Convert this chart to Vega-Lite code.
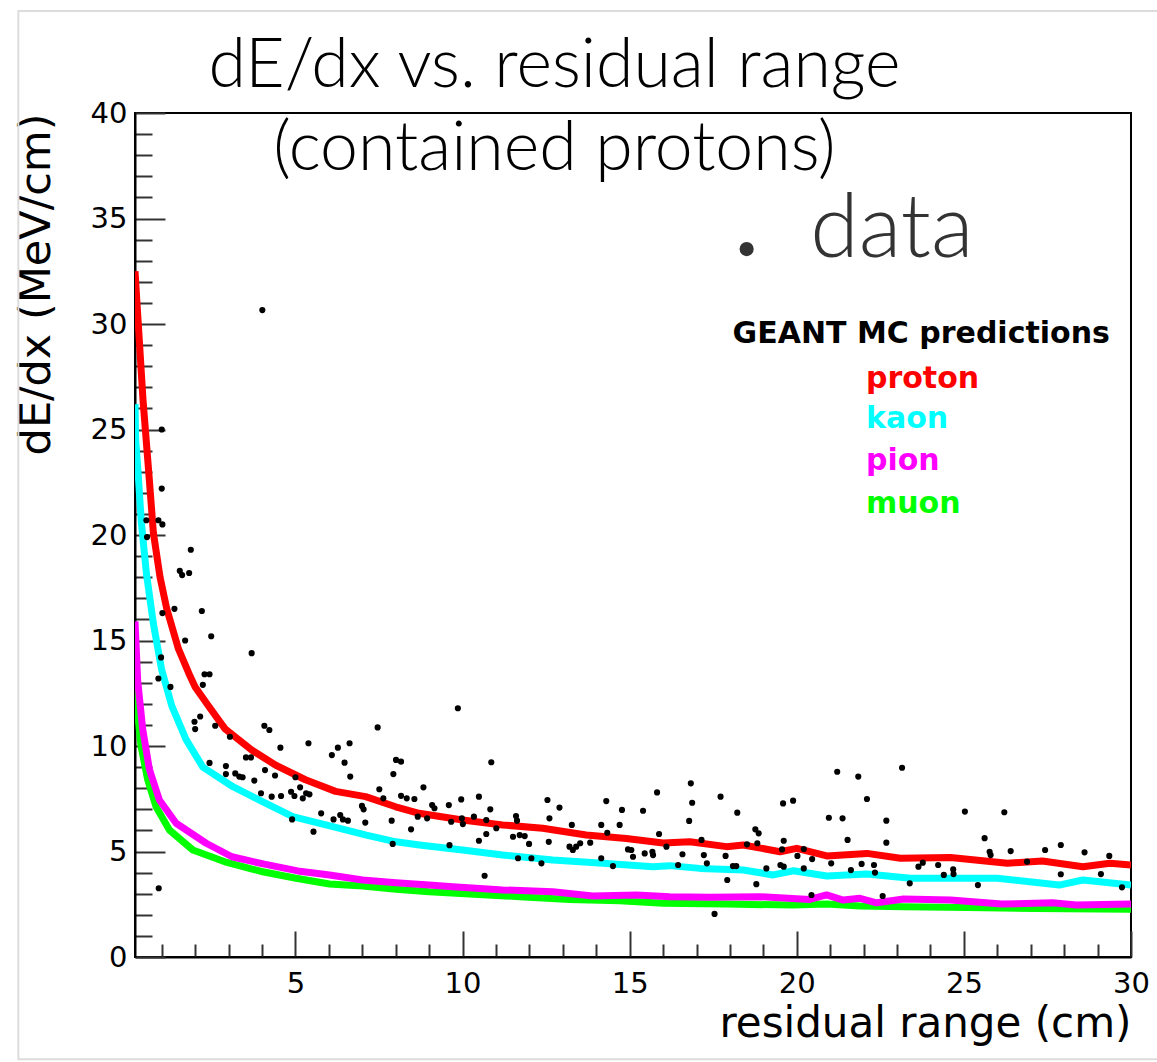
{
  "$schema": "https://vega.github.io/schema/vega-lite/v6.json",
  "width": 996,
  "height": 844,
  "autosize": "none",
  "padding": {"left": 135, "top": 113, "right": 26, "bottom": 105},
  "background": "#ffffff",
  "datasets": {
    "curves": [
      {"particle": "muon", "x": 0.2, "y": 14.1}, {"particle": "muon", "x": 0.23, "y": 12.3}, {"particle": "muon", "x": 0.38, "y": 10.0}, {"particle": "muon", "x": 0.58, "y": 8.4}, {"particle": "muon", "x": 0.83, "y": 7.12}, {"particle": "muon", "x": 1.23, "y": 6.02}, {"particle": "muon", "x": 1.93, "y": 5.07}, {"particle": "muon", "x": 2.95, "y": 4.48}, {"particle": "muon", "x": 4.02, "y": 4.04}, {"particle": "muon", "x": 5.02, "y": 3.73}, {"particle": "muon", "x": 6.02, "y": 3.46}, {"particle": "muon", "x": 7.01, "y": 3.36}, {"particle": "muon", "x": 8.01, "y": 3.21}, {"particle": "muon", "x": 9.0, "y": 3.09}, {"particle": "muon", "x": 10.21, "y": 2.99}, {"particle": "muon", "x": 11.71, "y": 2.86}, {"particle": "muon", "x": 13.2, "y": 2.73}, {"particle": "muon", "x": 14.7, "y": 2.67}, {"particle": "muon", "x": 16.0, "y": 2.55}, {"particle": "muon", "x": 17.9, "y": 2.51}, {"particle": "muon", "x": 19.89, "y": 2.46}, {"particle": "muon", "x": 20.89, "y": 2.51}, {"particle": "muon", "x": 21.89, "y": 2.42}, {"particle": "muon", "x": 23.2, "y": 2.38}, {"particle": "muon", "x": 25.11, "y": 2.35}, {"particle": "muon", "x": 27.14, "y": 2.3}, {"particle": "muon", "x": 30.0, "y": 2.26},
      {"particle": "pion", "x": 0.2, "y": 15.9}, {"particle": "pion", "x": 0.28, "y": 13.1}, {"particle": "pion", "x": 0.43, "y": 10.8}, {"particle": "pion", "x": 0.63, "y": 8.9}, {"particle": "pion", "x": 0.93, "y": 7.44}, {"particle": "pion", "x": 1.43, "y": 6.34}, {"particle": "pion", "x": 2.33, "y": 5.39}, {"particle": "pion", "x": 3.1, "y": 4.75}, {"particle": "pion", "x": 4.07, "y": 4.4}, {"particle": "pion", "x": 5.07, "y": 4.08}, {"particle": "pion", "x": 6.02, "y": 3.89}, {"particle": "pion", "x": 7.01, "y": 3.65}, {"particle": "pion", "x": 8.01, "y": 3.52}, {"particle": "pion", "x": 9.0, "y": 3.41}, {"particle": "pion", "x": 9.71, "y": 3.33}, {"particle": "pion", "x": 11.21, "y": 3.18}, {"particle": "pion", "x": 12.7, "y": 3.09}, {"particle": "pion", "x": 13.9, "y": 2.89}, {"particle": "pion", "x": 15.2, "y": 2.94}, {"particle": "pion", "x": 16.2, "y": 2.86}, {"particle": "pion", "x": 17.4, "y": 2.83}, {"particle": "pion", "x": 18.89, "y": 2.86}, {"particle": "pion", "x": 20.39, "y": 2.73}, {"particle": "pion", "x": 20.89, "y": 2.94}, {"particle": "pion", "x": 21.39, "y": 2.7}, {"particle": "pion", "x": 21.89, "y": 2.78}, {"particle": "pion", "x": 22.39, "y": 2.57}, {"particle": "pion", "x": 23.2, "y": 2.75}, {"particle": "pion", "x": 24.6, "y": 2.7}, {"particle": "pion", "x": 26.13, "y": 2.51}, {"particle": "pion", "x": 27.65, "y": 2.57}, {"particle": "pion", "x": 28.36, "y": 2.46}, {"particle": "pion", "x": 30.0, "y": 2.51},
      {"particle": "kaon", "x": 0.2, "y": 26.2}, {"particle": "kaon", "x": 0.22, "y": 24.5}, {"particle": "kaon", "x": 0.29, "y": 23.0}, {"particle": "kaon", "x": 0.39, "y": 20.6}, {"particle": "kaon", "x": 0.54, "y": 18.2}, {"particle": "kaon", "x": 0.75, "y": 15.8}, {"particle": "kaon", "x": 1.0, "y": 13.6}, {"particle": "kaon", "x": 1.3, "y": 11.9}, {"particle": "kaon", "x": 1.73, "y": 10.3}, {"particle": "kaon", "x": 2.23, "y": 9.0}, {"particle": "kaon", "x": 3.13, "y": 8.07}, {"particle": "kaon", "x": 4.12, "y": 7.28}, {"particle": "kaon", "x": 4.92, "y": 6.65}, {"particle": "kaon", "x": 6.12, "y": 6.18}, {"particle": "kaon", "x": 7.12, "y": 5.78}, {"particle": "kaon", "x": 8.01, "y": 5.46}, {"particle": "kaon", "x": 8.71, "y": 5.31}, {"particle": "kaon", "x": 10.0, "y": 5.07}, {"particle": "kaon", "x": 11.2, "y": 4.83}, {"particle": "kaon", "x": 12.7, "y": 4.6}, {"particle": "kaon", "x": 14.2, "y": 4.44}, {"particle": "kaon", "x": 15.7, "y": 4.28}, {"particle": "kaon", "x": 16.2, "y": 4.33}, {"particle": "kaon", "x": 17.1, "y": 4.2}, {"particle": "kaon", "x": 18.4, "y": 4.12}, {"particle": "kaon", "x": 19.3, "y": 3.89}, {"particle": "kaon", "x": 19.9, "y": 4.09}, {"particle": "kaon", "x": 20.9, "y": 3.84}, {"particle": "kaon", "x": 22.1, "y": 3.93}, {"particle": "kaon", "x": 23.4, "y": 3.73}, {"particle": "kaon", "x": 24.6, "y": 3.73}, {"particle": "kaon", "x": 26.0, "y": 3.73}, {"particle": "kaon", "x": 27.85, "y": 3.41}, {"particle": "kaon", "x": 28.56, "y": 3.65}, {"particle": "kaon", "x": 30.0, "y": 3.41},
      {"particle": "proton", "x": 0.2, "y": 32.5}, {"particle": "proton", "x": 0.44, "y": 26.4}, {"particle": "proton", "x": 0.63, "y": 22.6}, {"particle": "proton", "x": 0.75, "y": 20.1}, {"particle": "proton", "x": 0.95, "y": 18.0}, {"particle": "proton", "x": 1.15, "y": 16.5}, {"particle": "proton", "x": 1.5, "y": 14.6}, {"particle": "proton", "x": 1.85, "y": 13.3}, {"particle": "proton", "x": 2.0, "y": 12.8}, {"particle": "proton", "x": 2.4, "y": 11.9}, {"particle": "proton", "x": 2.9, "y": 10.8}, {"particle": "proton", "x": 3.7, "y": 9.8}, {"particle": "proton", "x": 4.4, "y": 9.1}, {"particle": "proton", "x": 5.3, "y": 8.4}, {"particle": "proton", "x": 6.2, "y": 7.85}, {"particle": "proton", "x": 7.1, "y": 7.6}, {"particle": "proton", "x": 8.0, "y": 7.12}, {"particle": "proton", "x": 8.7, "y": 6.81}, {"particle": "proton", "x": 10.0, "y": 6.49}, {"particle": "proton", "x": 11.2, "y": 6.26}, {"particle": "proton", "x": 12.4, "y": 6.1}, {"particle": "proton", "x": 13.7, "y": 5.78}, {"particle": "proton", "x": 14.9, "y": 5.62}, {"particle": "proton", "x": 16.0, "y": 5.4}, {"particle": "proton", "x": 16.8, "y": 5.46}, {"particle": "proton", "x": 17.9, "y": 5.23}, {"particle": "proton", "x": 18.4, "y": 5.31}, {"particle": "proton", "x": 19.5, "y": 4.99}, {"particle": "proton", "x": 20.0, "y": 5.15}, {"particle": "proton", "x": 20.9, "y": 4.79}, {"particle": "proton", "x": 22.1, "y": 4.91}, {"particle": "proton", "x": 23.1, "y": 4.68}, {"particle": "proton", "x": 24.6, "y": 4.72}, {"particle": "proton", "x": 26.3, "y": 4.44}, {"particle": "proton", "x": 27.35, "y": 4.55}, {"particle": "proton", "x": 28.56, "y": 4.28}, {"particle": "proton", "x": 29.37, "y": 4.44}, {"particle": "proton", "x": 30.0, "y": 4.36}
    ],
    "points": [
      {"x": 4.01, "y": 30.66}, {"x": 1.0, "y": 25.0}, {"x": 1.0, "y": 22.2}, {"x": 0.54, "y": 20.7}, {"x": 0.9, "y": 20.7}, {"x": 1.02, "y": 20.5}, {"x": 0.56, "y": 19.9}, {"x": 1.87, "y": 19.3}, {"x": 1.54, "y": 18.3}, {"x": 1.61, "y": 18.1}, {"x": 1.82, "y": 18.2}, {"x": 1.02, "y": 16.3}, {"x": 1.38, "y": 16.5}, {"x": 2.2, "y": 16.4}, {"x": 1.7, "y": 15.0}, {"x": 2.48, "y": 15.2}, {"x": 3.69, "y": 14.4}, {"x": 0.98, "y": 14.2}, {"x": 2.28, "y": 13.4}, {"x": 2.43, "y": 13.4}, {"x": 0.9, "y": 13.2}, {"x": 1.26, "y": 12.8}, {"x": 2.23, "y": 12.9},
      {"x": 1.98, "y": 11.15}, {"x": 2.0, "y": 10.8}, {"x": 2.15, "y": 11.4}, {"x": 2.6, "y": 10.96}, {"x": 3.04, "y": 10.44}, {"x": 4.07, "y": 10.96}, {"x": 4.22, "y": 10.76}, {"x": 4.55, "y": 9.92}, {"x": 5.39, "y": 10.13}, {"x": 6.09, "y": 9.57}, {"x": 6.27, "y": 9.92}, {"x": 6.62, "y": 10.13}, {"x": 7.46, "y": 10.88}, {"x": 2.43, "y": 9.2}, {"x": 2.92, "y": 9.05}, {"x": 2.92, "y": 8.67}, {"x": 3.52, "y": 9.46}, {"x": 3.67, "y": 9.46}, {"x": 3.2, "y": 8.7}, {"x": 3.32, "y": 8.55}, {"x": 3.42, "y": 8.52}, {"x": 4.09, "y": 8.86}, {"x": 4.39, "y": 8.6}, {"x": 3.77, "y": 8.36}, {"x": 5.0, "y": 8.52}, {"x": 6.47, "y": 9.21}, {"x": 6.64, "y": 8.55}, {"x": 8.01, "y": 9.34}, {"x": 8.16, "y": 9.26}, {"x": 7.93, "y": 8.67}, {"x": 3.97, "y": 7.76}, {"x": 4.29, "y": 7.6}, {"x": 4.57, "y": 7.63}, {"x": 4.87, "y": 7.83}, {"x": 4.97, "y": 7.63}, {"x": 5.14, "y": 8.04}, {"x": 5.22, "y": 7.52}, {"x": 5.32, "y": 7.76}, {"x": 5.42, "y": 7.71}, {"x": 6.99, "y": 7.16}, {"x": 7.04, "y": 7.0}, {"x": 7.09, "y": 6.37}, {"x": 7.51, "y": 7.95}, {"x": 7.63, "y": 7.52}, {"x": 8.16, "y": 7.64}, {"x": 8.33, "y": 7.52}, {"x": 8.56, "y": 7.49}, {"x": 8.83, "y": 8.04}, {"x": 8.66, "y": 6.65}, {"x": 8.94, "y": 6.57}, {"x": 5.77, "y": 6.81}, {"x": 6.14, "y": 6.52}, {"x": 6.34, "y": 6.73}, {"x": 6.42, "y": 6.52}, {"x": 6.57, "y": 6.46}, {"x": 4.9, "y": 6.52}, {"x": 5.54, "y": 5.94}, {"x": 7.88, "y": 6.46}, {"x": 8.46, "y": 6.05}, {"x": 7.91, "y": 5.36}, {"x": 0.91, "y": 3.26},
      {"x": 9.86, "y": 11.79}, {"x": 10.86, "y": 9.23}, {"x": 9.09, "y": 7.2}, {"x": 9.16, "y": 7.05}, {"x": 9.59, "y": 7.2}, {"x": 9.96, "y": 7.47}, {"x": 10.49, "y": 7.6}, {"x": 9.66, "y": 6.41}, {"x": 9.98, "y": 6.57}, {"x": 10.01, "y": 6.3}, {"x": 10.34, "y": 6.65}, {"x": 10.71, "y": 6.49}, {"x": 10.83, "y": 7.0}, {"x": 11.01, "y": 6.1}, {"x": 10.71, "y": 5.83}, {"x": 10.49, "y": 5.51}, {"x": 9.61, "y": 5.3}, {"x": 10.66, "y": 3.85}, {"x": 11.6, "y": 6.68}, {"x": 11.63, "y": 6.46}, {"x": 11.51, "y": 5.7}, {"x": 11.71, "y": 5.78}, {"x": 11.86, "y": 5.73}, {"x": 11.99, "y": 5.36}, {"x": 11.66, "y": 4.68}, {"x": 12.06, "y": 4.68}, {"x": 12.36, "y": 4.44}, {"x": 12.54, "y": 7.44}, {"x": 12.6, "y": 6.57}, {"x": 12.58, "y": 5.46}, {"x": 12.9, "y": 7.08}, {"x": 13.27, "y": 6.26}, {"x": 13.2, "y": 5.23}, {"x": 13.3, "y": 5.07}, {"x": 13.4, "y": 5.23}, {"x": 13.52, "y": 5.39}, {"x": 13.82, "y": 5.42}, {"x": 14.15, "y": 6.26}, {"x": 14.3, "y": 7.39}, {"x": 14.33, "y": 5.89}, {"x": 14.15, "y": 4.68}, {"x": 14.5, "y": 4.31}, {"x": 14.77, "y": 6.97}, {"x": 14.7, "y": 6.26}, {"x": 14.95, "y": 5.1}, {"x": 15.05, "y": 5.07}, {"x": 15.1, "y": 4.75}, {"x": 15.4, "y": 6.93}, {"x": 15.45, "y": 4.91}, {"x": 15.68, "y": 4.99}, {"x": 15.7, "y": 4.83}, {"x": 15.82, "y": 7.8}, {"x": 15.88, "y": 5.83}, {"x": 16.1, "y": 5.23},
      {"x": 16.83, "y": 8.23}, {"x": 16.87, "y": 7.31}, {"x": 16.78, "y": 6.45}, {"x": 16.58, "y": 4.87}, {"x": 17.15, "y": 5.55}, {"x": 17.22, "y": 4.83}, {"x": 17.31, "y": 4.44}, {"x": 16.45, "y": 4.36}, {"x": 17.72, "y": 7.6}, {"x": 17.87, "y": 4.79}, {"x": 17.92, "y": 3.65}, {"x": 17.54, "y": 2.04}, {"x": 18.09, "y": 4.31}, {"x": 18.19, "y": 4.31}, {"x": 18.22, "y": 6.84}, {"x": 18.51, "y": 5.34}, {"x": 18.76, "y": 6.05}, {"x": 18.86, "y": 5.86}, {"x": 18.82, "y": 5.39}, {"x": 18.79, "y": 3.45}, {"x": 19.09, "y": 4.2}, {"x": 19.59, "y": 7.28}, {"x": 19.89, "y": 7.41}, {"x": 19.61, "y": 5.51}, {"x": 19.56, "y": 5.1}, {"x": 19.51, "y": 4.36}, {"x": 19.61, "y": 4.28}, {"x": 20.02, "y": 4.79}, {"x": 20.21, "y": 5.12}, {"x": 20.21, "y": 4.2}, {"x": 20.46, "y": 4.64}, {"x": 20.44, "y": 2.94}, {"x": 20.96, "y": 6.6}, {"x": 21.03, "y": 4.44}, {"x": 21.21, "y": 8.78}, {"x": 21.37, "y": 6.57}, {"x": 21.52, "y": 5.55}, {"x": 21.62, "y": 4.12}, {"x": 21.84, "y": 8.55}, {"x": 21.94, "y": 4.41}, {"x": 22.1, "y": 7.49}, {"x": 22.31, "y": 4.36}, {"x": 22.34, "y": 4.0}, {"x": 22.57, "y": 2.89}, {"x": 22.68, "y": 6.46}, {"x": 22.68, "y": 5.42}, {"x": 23.15, "y": 8.97}, {"x": 23.38, "y": 3.49},
      {"x": 25.03, "y": 6.89}, {"x": 26.21, "y": 6.86}, {"x": 25.62, "y": 5.63}, {"x": 25.77, "y": 4.99}, {"x": 25.8, "y": 4.83}, {"x": 26.4, "y": 5.02}, {"x": 27.43, "y": 5.07}, {"x": 27.9, "y": 5.31}, {"x": 27.9, "y": 3.92}, {"x": 28.61, "y": 4.96}, {"x": 29.35, "y": 4.79}, {"x": 29.1, "y": 3.93}, {"x": 29.73, "y": 3.3}, {"x": 23.64, "y": 4.28}, {"x": 23.77, "y": 4.47}, {"x": 24.23, "y": 4.36}, {"x": 24.4, "y": 3.89}, {"x": 24.68, "y": 4.15}, {"x": 24.69, "y": 3.93}, {"x": 25.42, "y": 3.41}, {"x": 26.89, "y": 4.52}
    ],
    "annotations": [
      {"label": "", "role": "frame"},
      {"label": "dE/dx vs. residual range", "role": "title"},
      {"label": "(contained protons)", "role": "subtitle"},
      {"label": "data", "role": "data"},
      {"label": "GEANT MC predictions", "role": "legendhead"},
      {"label": "proton", "role": "proton"},
      {"label": "kaon", "role": "kaon"},
      {"label": "pion", "role": "pion"},
      {"label": "muon", "role": "muon"}
    ]
  },
  "resolve": {"axis": {"x": "independent", "y": "independent"}},
  "layer": [
    {
      "data": {"name": "annotations"},
      "transform": [{"filter": "datum.role === 'frame'"}],
      "mark": {"type": "rect", "fillOpacity": 0, "stroke": "#dcdcdc", "strokeWidth": 2, "clip": false},
      "encoding": {
        "x": {"datum": -3.29, "axis": null},
        "x2": {"datum": 31.8},
        "y": {"datum": 44.83, "axis": null},
        "y2": {"datum": -4.85}
      }
    },
    {
      "data": {"name": "curves"},
      "mark": {"type": "line", "strokeWidth": 7, "strokeJoin": "round", "strokeCap": "butt", "clip": true},
      "encoding": {
        "x": {
          "field": "x",
          "type": "quantitative",
          "scale": {"domain": [0.2, 30], "nice": false, "zero": false},
          "axis": {
            "orient": "bottom",
            "title": "residual range (cm)",
            "titleAnchor": "end",
            "titlePadding": -8,
            "titleFontSize": 42,
            "values": [1,2,3,4,5,6,7,8,9,10,11,12,13,14,15,16,17,18,19,20,21,22,23,24,25,26,27,28,29,30],
            "tickSize": {"condition": {"test": "datum.value % 5 === 0", "value": -26}, "value": -13},
            "labelExpr": "datum.value % 5 === 0 ? datum.label : ''",
            "labelPadding": 38,
            "labelFlush": false,
            "labelOverlap": false
          }
        },
        "y": {
          "field": "y",
          "type": "quantitative",
          "scale": {"domain": [0, 40], "nice": false, "zero": false},
          "axis": {
            "orient": "left",
            "title": "dE/dx (MeV/cm)",
            "titleAnchor": "end",
            "titlePadding": 32,
            "titleFontSize": 43,
            "values": [0,1,2,3,4,5,6,7,8,9,10,11,12,13,14,15,16,17,18,19,20,21,22,23,24,25,26,27,28,29,30,31,32,33,34,35,36,37,38,39,40],
            "tickSize": {"condition": {"test": "datum.value % 5 === 0", "value": -30}, "value": -17},
            "labelExpr": "datum.value % 5 === 0 ? datum.label : ''",
            "labelPadding": 38,
            "labelFlush": false,
            "labelOverlap": false
          }
        },
        "color": {
          "field": "particle",
          "type": "nominal",
          "scale": {"domain": ["muon", "pion", "kaon", "proton"], "range": ["#00ff00", "#ff00ff", "#00ffff", "#ff0000"]},
          "legend": null
        }
      }
    },
    {
      "data": {"name": "points"},
      "mark": {"type": "point", "filled": true, "color": "#000000", "opacity": 1, "size": 38, "shape": "circle"},
      "encoding": {
        "x": {"field": "x", "type": "quantitative", "axis": null},
        "y": {"field": "y", "type": "quantitative", "axis": null}
      }
    },
    {
      "data": {"name": "annotations"},
      "transform": [{"filter": "datum.role === 'title'"}],
      "mark": {"type": "text", "font": "Lato", "fontWeight": 300, "fontSize": 68, "align": "center", "baseline": "alphabetic", "color": "#000000"},
      "encoding": {"text": {"field": "label"}, "x": {"datum": 12.75, "axis": null}, "y": {"datum": 41.23, "axis": null}}
    },
    {
      "data": {"name": "annotations"},
      "transform": [{"filter": "datum.role === 'subtitle'"}],
      "mark": {"type": "text", "font": "Lato", "fontWeight": 300, "fontSize": 68, "align": "center", "baseline": "alphabetic", "color": "#000000"},
      "encoding": {"text": {"field": "label"}, "x": {"datum": 12.75, "axis": null}, "y": {"datum": 37.3, "axis": null}}
    },
    {
      "data": {"name": "annotations"},
      "transform": [{"filter": "datum.role === 'data'"}],
      "mark": {"type": "text", "font": "Lato", "fontWeight": 300, "fontSize": 88, "align": "left", "baseline": "alphabetic", "color": "#333333"},
      "encoding": {"text": {"field": "label"}, "x": {"datum": 20.4, "axis": null}, "y": {"datum": 33.18, "axis": null}}
    },
    {
      "data": {"name": "annotations"},
      "transform": [{"filter": "datum.role === 'data'"}],
      "mark": {"type": "point", "filled": true, "shape": "circle", "size": 200, "color": "#333333", "opacity": 1},
      "encoding": {"x": {"datum": 18.5, "axis": null}, "y": {"datum": 33.55, "axis": null}}
    },
    {
      "data": {"name": "annotations"},
      "transform": [{"filter": "datum.role === 'legendhead'"}],
      "mark": {"type": "text", "font": "DejaVu Sans", "fontWeight": "bold", "fontSize": 30, "align": "left", "baseline": "alphabetic", "color": "#000000"},
      "encoding": {"text": {"field": "label"}, "x": {"datum": 18.08, "axis": null}, "y": {"datum": 29.1, "axis": null}}
    },
    {
      "data": {"name": "annotations"},
      "transform": [{"filter": "datum.role === 'proton'"}],
      "mark": {"type": "text", "font": "DejaVu Sans", "fontWeight": "bold", "fontSize": 30, "align": "left", "baseline": "alphabetic", "color": "#ff0000"},
      "encoding": {"text": {"field": "label"}, "x": {"datum": 22.07, "axis": null}, "y": {"datum": 26.97, "axis": null}}
    },
    {
      "data": {"name": "annotations"},
      "transform": [{"filter": "datum.role === 'kaon'"}],
      "mark": {"type": "text", "font": "DejaVu Sans", "fontWeight": "bold", "fontSize": 30, "align": "left", "baseline": "alphabetic", "color": "#00ffff"},
      "encoding": {"text": {"field": "label"}, "x": {"datum": 22.07, "axis": null}, "y": {"datum": 25.07, "axis": null}}
    },
    {
      "data": {"name": "annotations"},
      "transform": [{"filter": "datum.role === 'pion'"}],
      "mark": {"type": "text", "font": "DejaVu Sans", "fontWeight": "bold", "fontSize": 30, "align": "left", "baseline": "alphabetic", "color": "#ff00ff"},
      "encoding": {"text": {"field": "label"}, "x": {"datum": 22.07, "axis": null}, "y": {"datum": 23.08, "axis": null}}
    },
    {
      "data": {"name": "annotations"},
      "transform": [{"filter": "datum.role === 'muon'"}],
      "mark": {"type": "text", "font": "DejaVu Sans", "fontWeight": "bold", "fontSize": 30, "align": "left", "baseline": "alphabetic", "color": "#00ff00"},
      "encoding": {"text": {"field": "label"}, "x": {"datum": 22.07, "axis": null}, "y": {"datum": 21.04, "axis": null}}
    }
  ],
  "config": {
    "view": {"stroke": "#000000", "strokeWidth": 2},
    "axis": {
      "grid": false,
      "zindex": 1,
      "domainColor": "#000000",
      "domainWidth": 2,
      "tickColor": "#333333",
      "tickWidth": 2,
      "labelFont": "DejaVu Sans",
      "labelFontSize": 29,
      "labelColor": "#000000",
      "titleFont": "DejaVu Sans",
      "titleFontWeight": "normal",
      "titleColor": "#000000"
    }
  }
}
